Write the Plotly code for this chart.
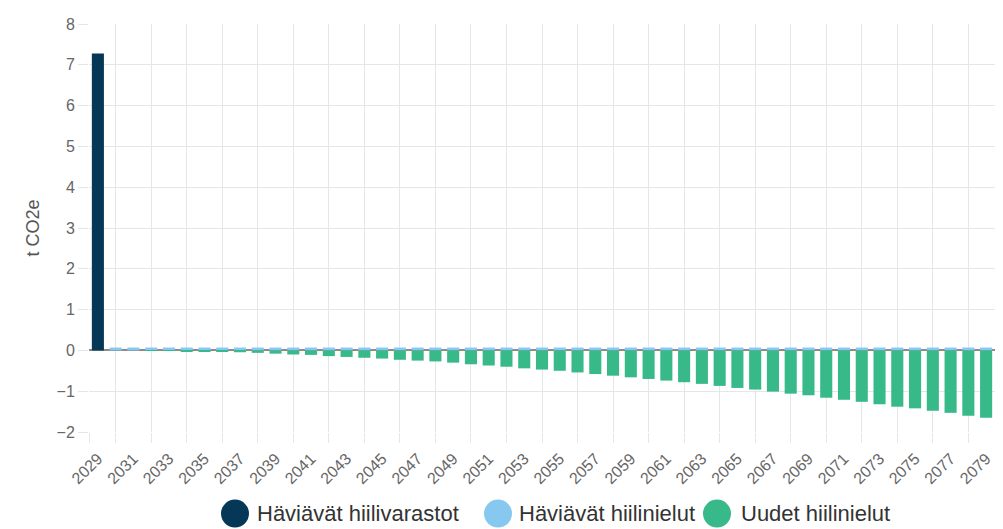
import plotly.graph_objects as go

# ---- data ----
years = list(range(2029, 2080))
label_years = [y for y in years if (y - 2029) % 2 == 0]
tick_labels = [str(y) for y in label_years]

haviavat_hiilivarastot = [7.28] + [0.0] * 50
haviavat_hiilinielut = [0.0] + [0.07] * 50
uudet_hiilinielut = [0.0,
    0.0, 0.0, -0.005, -0.01, -0.015, -0.02, -0.03, -0.045, -0.06, -0.08,
    -0.10, -0.11, -0.14, -0.16, -0.18, -0.20, -0.23, -0.25, -0.27, -0.30,
    -0.34, -0.37, -0.40, -0.44, -0.47, -0.50, -0.54, -0.58, -0.62, -0.66,
    -0.70, -0.74, -0.78, -0.82, -0.87, -0.92, -0.96, -1.01, -1.06, -1.10,
    -1.16, -1.21, -1.26, -1.32, -1.38, -1.42, -1.48, -1.53, -1.60, -1.65]

series_names = ["Häviävät hiilivarastot", "Häviävät hiilinielut", "Uudet hiilinielut"]
series_colors = ["#053857", "#86c8ef", "#37b98a"]
series_values = [haviavat_hiilivarastot, haviavat_hiilinielut, uudet_hiilinielut]

# ---- figure ----
FONT = "Liberation Sans, Arial, sans-serif"
fig = go.Figure()
for name, color, vals in zip(series_names, series_colors, series_values):
    fig.add_trace(go.Bar(x=years, y=vals, name=name, marker_color=color,
                         marker_line_width=0, showlegend=False))

grid_col = "#e6e6e6"
minor_vals = [years[0] - 0.5] + [y for y in years if (y - 2029) % 2 == 1]

# page body has an 8px margin, so the figure is 8px smaller and offset
fig.update_layout(
    width=995, height=521,
    margin=dict(l=81, r=8, t=9, b=97),
    barmode="relative", bargap=0.32,
    plot_bgcolor="white", paper_bgcolor="white",
    font=dict(family=FONT, color="#666666"),
    xaxis=dict(
        range=[years[0] - 0.5, years[-1] + 0.5],
        tickmode="array", tickvals=label_years, ticktext=tick_labels,
        tickangle=-45, tickfont=dict(size=16, color="#666666"),
        showgrid=False, zeroline=False, showline=False,
        ticks="outside", ticklen=10, tickcolor="rgba(0,0,0,0)",
        minor=dict(tickmode="array", tickvals=minor_vals, showgrid=True,
                   gridcolor=grid_col, gridwidth=1, ticks="outside",
                   ticklen=10, tickcolor=grid_col),
    ),
    yaxis=dict(
        range=[-2, 8], dtick=1, tick0=0,
        tickfont=dict(size=16, color="#666666"),
        showgrid=True, gridcolor=grid_col, gridwidth=1,
        zeroline=True, zerolinecolor="#8c8c8c", zerolinewidth=1.5,
        ticks="outside", ticklen=10, tickcolor=grid_col,
        title=dict(text="t CO2e", font=dict(size=18, color="#555555"), standoff=12),
    ),
)

# ---- legend drawn as shapes + text (large circle symbols) ----
def px_x(px):
    return (px - 89) / 906.0

def px_y(py):
    return (432 - py) / 415.0

legend_circle_px = [235, 498, 717]
legend_text_px = [255, 517, 739]
legend_y = 515
for name, color, cx, tx in zip(series_names, series_colors, legend_circle_px, legend_text_px):
    fig.add_shape(type="circle", xref="paper", yref="paper",
                  xsizemode="pixel", ysizemode="pixel",
                  xanchor=px_x(cx), yanchor=px_y(legend_y),
                  x0=-14, x1=14, y0=-14, y1=14,
                  fillcolor=color, line=dict(width=0))
    fig.add_annotation(text=name, xref="paper", yref="paper",
                       x=px_x(tx), y=px_y(legend_y), xanchor="left", yanchor="middle",
                       showarrow=False, font=dict(size=22, color="#333333", family=FONT))

fig.write_html("out.html")
